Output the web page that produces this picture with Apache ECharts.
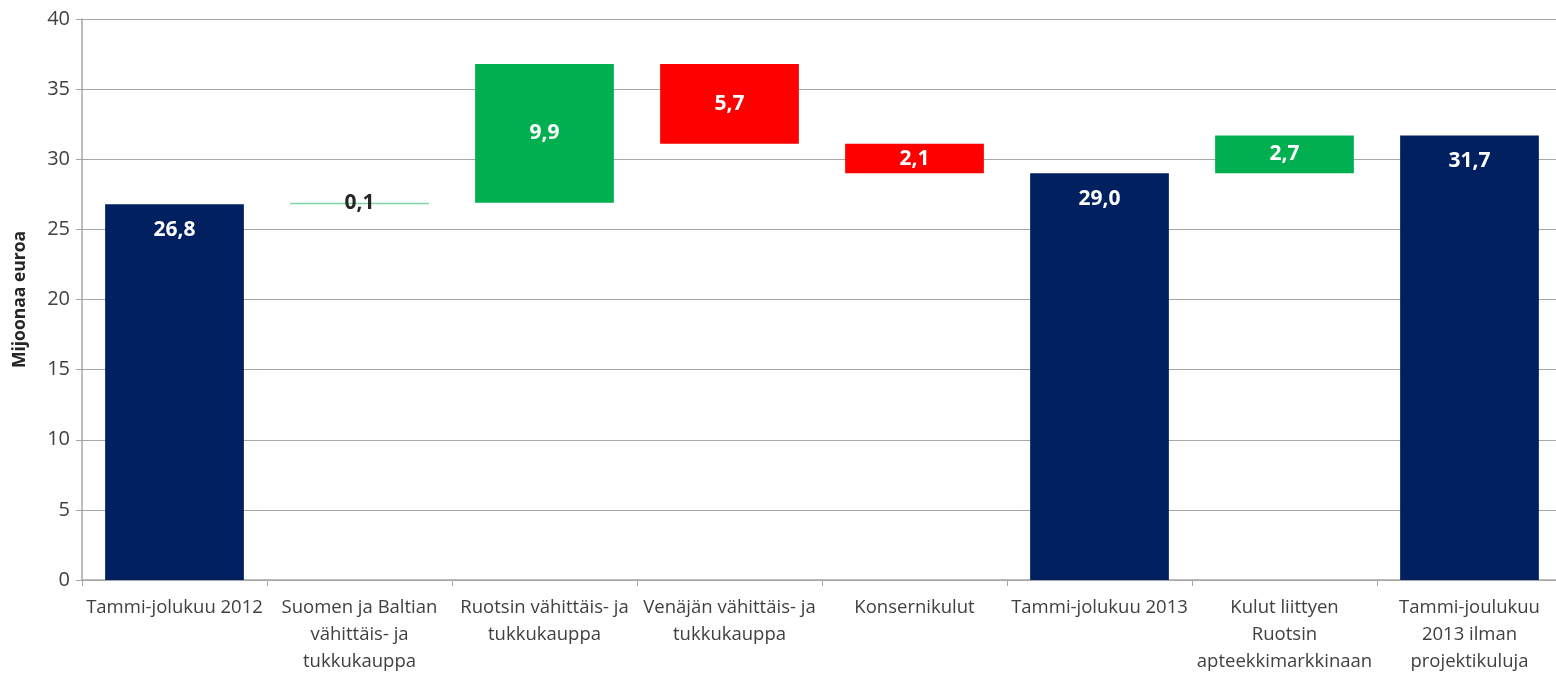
<!DOCTYPE html>
<html>
<head>
<meta charset="utf-8">
<title>Waterfall</title>
<script src="https://cdn.jsdelivr.net/npm/echarts@6/dist/echarts.min.js"></script>
<style>
html,body{margin:0;padding:0;background:#fff;}
#main{width:1556px;height:673px;}
</style>
</head>
<body>
<div id="main"></div>
<script>
// kategoriat ja muutokset (milj. euroa)
var categories = [
  'Tammi-jolukuu 2012',
  'Suomen ja Baltian\nvähittäis- ja\ntukkukauppa',
  'Ruotsin vähittäis- ja\ntukkukauppa',
  'Venäjän vähittäis- ja\ntukkukauppa',
  'Konsernikulut',
  'Tammi-jolukuu 2013',
  'Kulut liittyen\nRuotsin\napteekkimarkkinaan',
  'Tammi-joulukuu\n2013 ilman\nprojektikuluja'
];
var changes = [26.8, 0.1, 9.9, -5.7, -2.1, 29.0, 2.7, 31.7];
var isTotal = [true, false, false, false, false, true, false, true];
var yTicks = [0, 40, 5];

var navy = '#002060', green = '#00B050', red = '#FF0000';

// pohja + näkyvä osa
var base = [], shown = [];
var run = 0;
for (var i = 0; i < changes.length; i++) {
  var v = changes[i];
  if (isTotal[i]) {
    base.push(0);
    shown.push({value: v, itemStyle: {color: navy},
      label: {position: 'insideTop', distance: 15, color: '#fff'}});
    run = v;
  } else {
    var lo = v >= 0 ? run : run + v;
    base.push(+lo.toFixed(2));
    var item = {value: Math.abs(v), itemStyle: {color: v >= 0 ? green : red}};
    if (Math.abs(v) < 0.5) {
      item.itemStyle.color = '#7fd6a4';
      item.label = {position: 'inside', color: '#262626'};
    }
    shown.push(item);
    run = +(run + v).toFixed(2);
  }
}

var chart = echarts.init(document.getElementById('main'));
chart.setOption({
  animation: false,
  textStyle: {fontFamily: '"Open Sans", sans-serif'},
  grid: {left: 82, right: -6, top: 19, bottom: 93, containLabel: false, outerBoundsMode: 'none'},
  xAxis: {
    type: 'category',
    data: categories,
    axisLine: {lineStyle: {color: '#a6a6a6', width: 1.5}},
    axisTick: {show: true, length: 6, lineStyle: {color: '#a6a6a6'}},
    axisLabel: {interval: 0, color: '#404040', fontSize: 18.5, lineHeight: 27, margin: 14}
  },
  yAxis: {
    type: 'value',
    min: yTicks[0], max: yTicks[1], interval: yTicks[2],
    name: 'Mijoonaa euroa',
    nameLocation: 'middle',
    nameGap: 53,
    nameTextStyle: {fontSize: 17.5, fontWeight: 'bold', color: '#262626'},
    axisLine: {show: true, lineStyle: {color: '#a6a6a6', width: 1.5}},
    axisTick: {show: true, length: 6, lineStyle: {color: '#a6a6a6'}},
    axisLabel: {color: '#404040', fontSize: 20, margin: 12},
    splitLine: {lineStyle: {color: '#a6a6a6', width: 1.2}}
  },
  series: [
    {
      type: 'bar', stack: 'w', data: base,
      itemStyle: {color: 'transparent'},
      barCategoryGap: '25%',
      silent: true
    },
    {
      type: 'bar', stack: 'w', data: shown,
      barCategoryGap: '25%',
      label: {
        show: true, position: 'inside', color: '#fff',
        fontSize: 21, fontWeight: 'bold',
        formatter: function (p) { return p.value.toFixed(1).replace('.', ','); }
      }
    }
  ]
});
</script>
</body>
</html>
